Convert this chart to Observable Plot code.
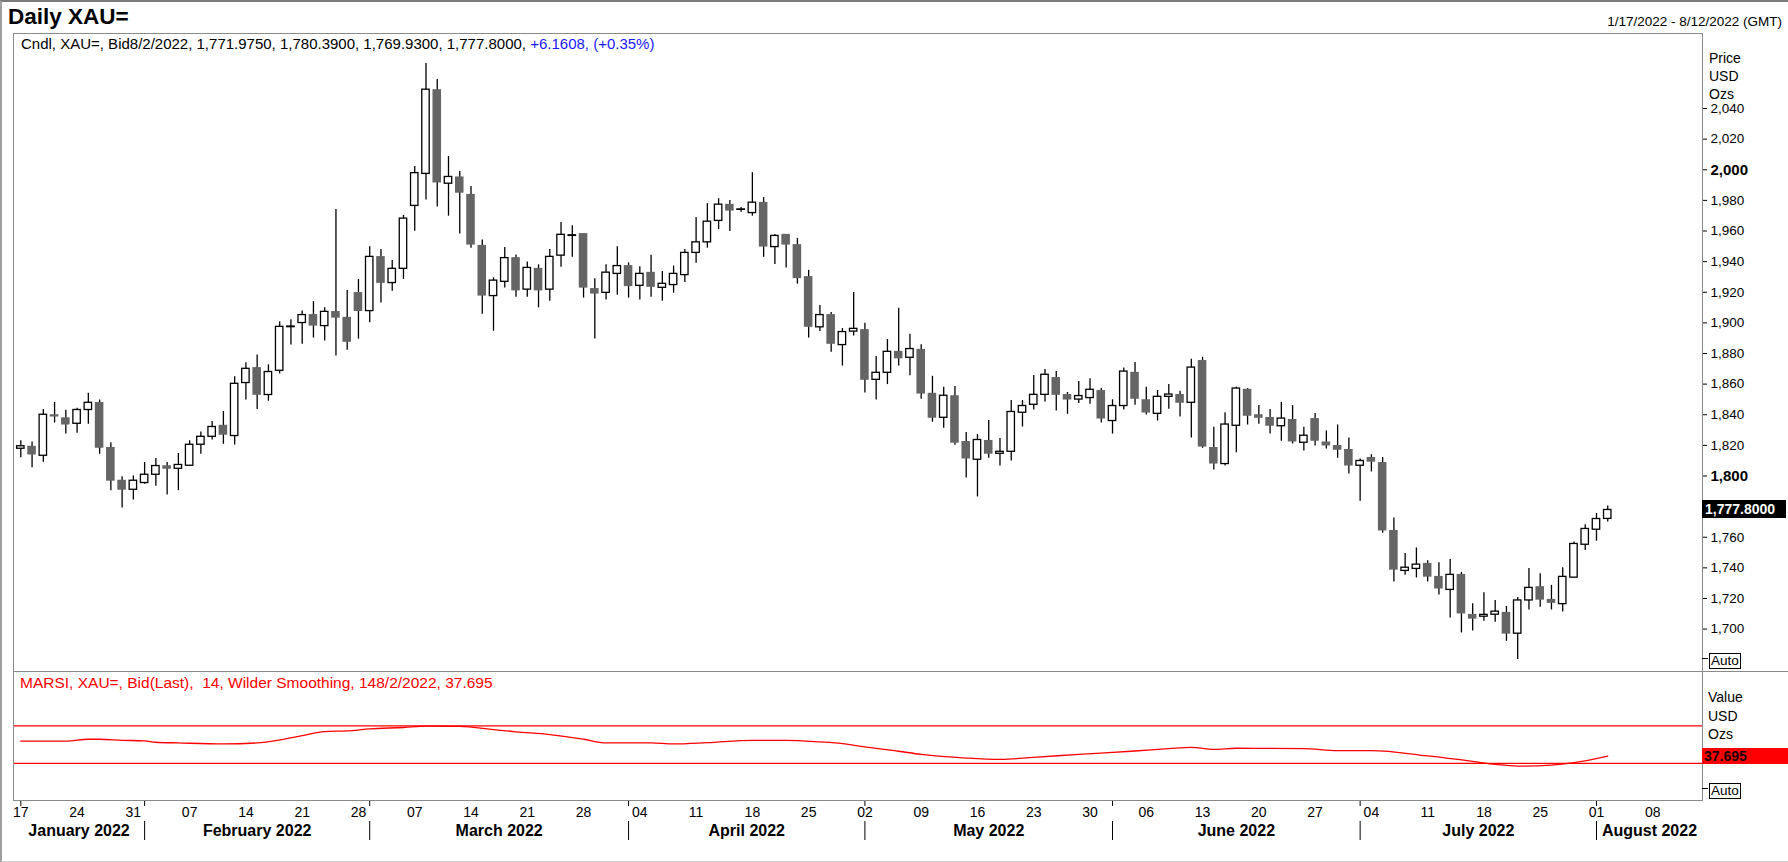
<!DOCTYPE html>
<html><head><meta charset="utf-8">
<script src="https://cdn.jsdelivr.net/npm/d3@7"></script>
<script src="https://cdn.jsdelivr.net/npm/@observablehq/plot@0.6"></script>
<style>
html,body{margin:0;padding:0;background:#fff;}
#root{position:relative;width:1788px;height:862px;overflow:hidden;font-family:"Liberation Sans",Arial,sans-serif;color:#000;background:#fff;}
.abs{position:absolute;white-space:nowrap;line-height:1;}
.panel{position:absolute;left:0;}
</style></head><body><div id="root"></div>
<script>
// ---------- DATA (daily XAU= candles, 1/17/2022 .. 8/2/2022, weekdays) ----------
const open = [1817.8,1819.4,1813.2,1840.0,1838.0,1834.1,1843.1,1848.0,1818.6,1797.2,
1791.0,1795.4,1800.8,1806.7,1804.7,1806.7,1820.4,1825.6,1833.1,1826.1,
1860.7,1870.8,1852.9,1868.7,1897.2,1899.9,1905.4,1897.9,1907.4,1903.6,
1919.8,1907.7,1943.3,1926.0,1935.3,1976.4,1997.3,2052.3,1990.9,1995.3,
1983.9,1950.6,1917.5,1926.8,1942.6,1921.7,1935.6,1921.7,1943.9,1956.8,
1958.3,1922.4,1919.6,1932.0,1937.4,1924.2,1933.0,1922.9,1924.7,1931.2,
1945.7,1952.6,1966.6,1977.4,1973.8,1971.7,1978.7,1949.5,1957.8,1951.1,
1930.2,1897.1,1905.4,1885.5,1894.3,1895.6,1862.8,1867.4,1881.4,1877.2,
1882.7,1854.0,1838.0,1852.4,1822.5,1810.6,1823.2,1814.5,1815.8,1841.3,
1846.5,1853.0,1864.3,1853.2,1849.9,1850.9,1855.8,1835.9,1845.7,1867.7,
1849.8,1840.6,1851.7,1853.2,1847.8,1875.4,1818.6,1807.8,1832.8,1856.6,
1840.0,1838.2,1832.5,1836.9,1821.7,1837.5,1822.2,1819.9,1817.3,1806.7,
1812.1,1808.8,1764.4,1738.0,1739.3,1742.9,1734.4,1725.6,1735.7,1709.6,
1708.1,1709.4,1710.9,1697.0,1718.7,1727.7,1719.4,1716.3,1733.6,1755.1,
1764.9,1771.975];
const high = [1823.0,1822.2,1843.4,1848.0,1842.9,1844.2,1854.0,1849.6,1821.7,1799.5,
1800.0,1808.8,1811.4,1808.8,1814.7,1823.0,1828.7,1835.6,1842.1,1864.8,
1873.9,1879.0,1872.6,1900.7,1902.0,1907.7,1913.9,1909.8,1974.1,1921.1,
1928.4,1949.8,1948.0,1940.8,1970.2,2002.2,2069.4,2059.0,2008.7,1998.9,
1989.1,1954.2,1929.4,1949.3,1944.4,1939.7,1937.9,1948.0,1965.6,1963.5,
1958.3,1928.9,1937.9,1949.8,1939.2,1936.6,1944.1,1933.5,1937.1,1948.0,
1968.9,1977.9,1981.1,1980.0,1975.4,1998.1,1981.8,1957.8,1957.8,1955.2,
1934.3,1911.3,1906.7,1896.3,1919.8,1899.7,1878.0,1889.1,1909.5,1892.5,
1885.7,1865.1,1857.9,1858.4,1828.4,1827.1,1836.2,1824.5,1849.3,1849.3,
1865.6,1869.5,1868.2,1854.5,1861.7,1863.5,1857.1,1849.8,1870.5,1874.1,
1857.9,1855.8,1859.7,1855.3,1876.2,1877.5,1831.8,1841.3,1857.9,1857.1,
1846.0,1843.4,1848.0,1846.0,1831.8,1840.8,1829.4,1833.3,1824.8,1811.1,
1813.9,1812.1,1772.6,1749.4,1753.0,1744.7,1743.4,1745.5,1737.0,1716.6,
1723.8,1718.7,1714.8,1720.7,1739.6,1736.2,1728.5,1740.1,1756.9,1768.2,
1775.5,1780.39];
const low = [1811.9,1805.4,1809.0,1834.6,1827.4,1827.9,1833.8,1814.2,1790.4,1779.1,
1784.3,1794.6,1793.3,1787.6,1790.4,1806.7,1814.2,1823.5,1820.7,1820.2,
1849.6,1843.4,1848.8,1866.6,1885.5,1886.0,1890.1,1888.1,1878.3,1882.1,
1889.4,1900.0,1912.9,1920.6,1928.4,1959.9,1980.3,1975.6,1969.7,1958.1,
1948.8,1905.6,1894.5,1922.7,1916.7,1916.7,1909.8,1914.2,1936.4,1942.8,
1916.2,1889.4,1914.9,1918.0,1916.2,1914.9,1916.7,1914.2,1919.3,1926.3,
1939.0,1948.8,1960.9,1959.6,1972.3,1969.7,1942.8,1938.2,1935.9,1925.3,
1890.1,1894.3,1880.8,1871.8,1891.4,1854.2,1849.6,1859.7,1871.8,1865.4,
1850.1,1835.1,1831.2,1820.1,1798.7,1786.3,1811.6,1806.5,1809.8,1832.0,
1843.1,1848.3,1842.4,1840.3,1847.3,1846.8,1834.6,1827.4,1843.1,1846.2,
1839.8,1835.9,1843.6,1838.5,1824.8,1818.1,1803.9,1806.5,1815.2,1833.3,
1833.8,1827.4,1822.7,1820.9,1816.3,1819.6,1817.6,1811.6,1801.3,1783.5,
1802.6,1762.6,1730.8,1735.2,1733.4,1730.8,1722.3,1707.3,1697.5,1698.8,
1705.2,1704.4,1692.0,1680.2,1712.5,1714.3,1712.5,1711.2,1733.6,1751.4,
1757.4,1769.93];
const close = [1819.4,1813.7,1840.0,1838.5,1833.3,1843.1,1847.8,1818.1,1796.6,1790.7,
1796.9,1800.8,1806.5,1804.4,1807.2,1820.4,1825.6,1832.0,1826.6,1860.2,
1870.0,1852.7,1867.9,1897.4,1897.6,1905.1,1897.9,1907.2,1903.1,1887.3,
1907.4,1943.1,1925.8,1935.3,1968.1,1997.8,2052.3,1991.4,1995.3,1984.7,
1950.8,1917.5,1927.6,1942.3,1920.9,1935.9,1920.9,1943.1,1957.5,1957.2,
1922.7,1918.8,1932.8,1937.1,1923.7,1932.0,1923.2,1925.5,1932.0,1945.7,
1952.6,1966.1,1977.2,1973.0,1974.1,1978.5,1949.5,1956.8,1950.8,1928.9,
1897.1,1905.1,1886.0,1894.0,1896.1,1862.5,1867.4,1881.1,1876.5,1882.9,
1853.5,1837.7,1852.4,1821.4,1811.1,1823.5,1814.2,1815.8,1841.8,1845.7,
1853.0,1866.1,1852.7,1849.6,1852.2,1856.3,1837.2,1845.7,1868.2,1850.1,
1841.1,1851.7,1853.2,1847.5,1870.8,1818.9,1807.8,1833.6,1857.1,1839.0,
1837.7,1832.5,1837.5,1822.2,1826.3,1822.7,1819.6,1816.8,1806.5,1809.8,
1809.0,1764.1,1738.5,1740.1,1742.1,1733.9,1726.2,1735.4,1709.9,1706.5,
1709.3,1711.4,1696.7,1718.7,1726.9,1718.9,1716.8,1734.1,1755.6,1765.4,
1771.9,1777.8];

// MARSI (14, Wilder smoothing) read at sparse trading-day positions
const rsiIdx = [0,4,6,7,9,11,12,14,18,21,23,25,27,29,31,34,36,39,42,44,47,50,52,56,58,61,65,68,71,73,75,78,80,84,87,90,94,99,102,104,106,108,114,117,120,125,129,131,133,136,138,141];
const rsiVal = [53.6,53.6,55.7,55.7,54.6,53.9,52.5,51.8,50.7,51.8,55.0,59.6,63.9,64.6,66.8,68.2,69.6,69.3,66.0,63.6,60.7,55.7,51.8,51.8,50.7,52.1,54.6,54.6,52.9,51.1,47.5,42.9,39.6,35.7,34.3,36.4,39.6,43.2,45.7,47.1,45.0,46.1,45.7,43.6,43.6,37.9,32.1,28.9,27.1,28.2,30.7,37.695];
const rsiLevels = [70, 30];

// axis labels
const dayLabels = ["17","24","31","07","14","21","28","07","14","21","28","04","11","18","25","02","09","16","23","30","06","13","20","27","04","11","18","25","01","08"];
const monthNames = ["January 2022","February 2022","March 2022","April 2022","May 2022","June 2022","July 2022","August 2022"];
const monthStartIdx = [11,31,54,75,97,119,140];
const priceTicks = [1700,1720,1740,1760,1820,1840,1860,1880,1900,1920,1940,1960,1980,2020,2040];
const priceBoldTicks = [1800,2000];

// ---------- LAYOUT ----------
const W = 1788, ML = 13, MR = 86;
const FONT = "Liberation Sans, Arial, sans-serif";
const xDomain = [-0.65, 149.42];
const root = document.getElementById("root");

const candles = open.map((o, i) => ({i, o, h: high[i], l: low[i], c: close[i], up: close[i] >= o}));
const rsi = rsiIdx.map((i, k) => ({i, v: rsiVal[k]}));
const weekIdx = dayLabels.map((_, k) => k * 5);
const bounds = [xDomain[0], ...monthStartIdx, xDomain[1]];
const months = monthNames.map((name, k) => ({name, center: (bounds[k] + bounds[k + 1]) / 2}));

function place(node, top) {
  const d = document.createElement("div");
  d.className = "panel"; d.style.top = top + "px";
  d.appendChild(node); root.appendChild(d); return d;
}
function label(text, x, yc, css = {}) {
  const d = document.createElement("div");
  d.className = "abs"; d.textContent = text;
  d.style.left = x + "px"; d.style.top = yc + "px"; d.style.transform = "translateY(-50%)";
  d.style.fontSize = "14px";
  Object.assign(d.style, css);
  root.appendChild(d); return d;
}

// price panel
const pricePlot = Plot.plot({
  width: W, height: 638, marginLeft: ML, marginRight: MR, marginTop: 0, marginBottom: 0,
  style: {fontFamily: FONT, fontSize: "14px", color: "#000", background: "transparent", overflow: "visible"},
  x: {domain: xDomain, axis: null},
  y: {domain: [1672.3, 2089.0], axis: null},
  marks: [
    Plot.ruleX(candles, {x: "i", y1: "l", y2: "h", stroke: "#000", strokeWidth: 1.3}),
    Plot.rect(candles.filter(d => !d.up), {x1: d => d.i - 0.38, x2: d => d.i + 0.38, y1: "o", y2: "c", fill: "#656565"}),
    Plot.rect(candles.filter(d => d.up), {x1: d => d.i - 0.33, x2: d => d.i + 0.33, y1: "o", y2: "c", fill: "#fff", stroke: "#000", strokeWidth: 1.3}),
    Plot.axisY(priceTicks, {anchor: "right", tickSize: 4, tickPadding: 4, tickFormat: d3.format(","), fontSize: 13.5, label: null, color: "#000"}),
    Plot.axisY(priceBoldTicks, {anchor: "right", tickSize: 4, tickPadding: 4, tickFormat: d3.format(","), fontSize: 15, fontWeight: "bold", label: null, color: "#000"}),
    Plot.frame({stroke: "#8a8a8a"})
  ]
});
place(pricePlot, 33);

// RSI panel (+ day labels)
const rsiPlot = Plot.plot({
  width: W, height: 129 + 24, marginLeft: ML, marginRight: MR, marginTop: 0, marginBottom: 24,
  style: {fontFamily: FONT, fontSize: "14px", color: "#000", background: "transparent", overflow: "visible"},
  x: {domain: xDomain, axis: null},
  y: {domain: [-9.5, 127.8], axis: null},
  marks: [
    Plot.ruleY(rsiLevels, {stroke: "#ff0000", strokeWidth: 1.2}),
    Plot.line(rsi, {x: "i", y: "v", stroke: "#ff0000", strokeWidth: 1.3, curve: "monotone-x"}),
    Plot.axisX(weekIdx, {anchor: "bottom", tickSize: 0, tickPadding: 7, tickFormat: d => dayLabels[d / 5], fontSize: 14, label: null, color: "#000"}),
    Plot.axisX([0, ...monthStartIdx], {anchor: "bottom", tickSize: 6, tickFormat: () => "", label: null, color: "#000"}),
    Plot.frame({stroke: "#8a8a8a"})
  ]
});
place(rsiPlot, 671);

// month strip
const monthPlot = Plot.plot({
  width: W, height: 35, marginLeft: ML, marginRight: MR, marginTop: 6, marginBottom: 10,
  style: {fontFamily: FONT, fontSize: "16px", color: "#000", background: "transparent", overflow: "visible"},
  x: {domain: xDomain, axis: null},
  y: {axis: null},
  marks: [
    Plot.ruleX(monthStartIdx, {stroke: "#000", strokeWidth: 1}),
    Plot.text(months, {x: "center", text: "name", frameAnchor: "middle", fontSize: 16, fontWeight: "bold", fill: "#000"})
  ]
});
place(monthPlot, 815);

// ---------- TEXT / DECORATIONS ----------
const border = document.createElement("div");
Object.assign(border.style, {position: "absolute", left: "0px", top: "0px", width: "1786px", height: "859px",
  borderLeft: "2px solid #a0a0a0", borderTop: "2px solid #7a7a7a", borderBottom: "1px solid #d0d0d0"});
root.appendChild(border);
const div2 = document.createElement("div");
Object.assign(div2.style, {position: "absolute", left: "1702px", top: "671px", width: "86px", height: "1px", background: "#8a8a8a"});
root.appendChild(div2);

label("Daily XAU=", 8, 17, {fontSize: "22.5px", fontWeight: "bold"});
label("1/17/2022 - 8/12/2022 (GMT)", 0, 22, {fontSize: "13.5px", left: "auto", right: "6px"});

const leg = label("", 21, 43, {fontSize: "15px"});
leg.innerHTML = 'Cndl, XAU=, Bid8/2/2022, 1,771.9750, 1,780.3900, 1,769.9300, 1,777.8000, <span style="color:#1a1aff">+6.1608, (+0.35%)</span>';

["Price", "USD", "Ozs"].forEach((t, k) => label(t, 1709, 58 + k * 18));

const yLast = 33 + pricePlot.scale("y").apply(close[close.length - 1]);
label(d3.format(",.4f")(close[close.length - 1]), 1702, yLast, {background: "#000", color: "#fff", fontWeight: "bold", padding: "2px 4px 2px 3px", width: "77px"});

function autoBox(yc) {
  label("Auto", 1709, yc, {border: "1px solid #000", padding: "0px 1px", fontSize: "13.5px", lineHeight: "14px"});
  const t = document.createElement("div");
  Object.assign(t.style, {position: "absolute", left: "1702px", top: (yc - 3) + "px", width: "6px", height: "1px", background: "#000"});
  root.appendChild(t);
}
autoBox(661);
autoBox(791);

label("MARSI, XAU=, Bid(Last),  14, Wilder Smoothing, 148/2/2022, 37.695".replace(/  /g, "\u00a0 "), 20, 683, {color: "#ff0000", fontSize: "15.5px"});
["Value", "USD", "Ozs"].forEach((t, k) => label(t, 1708, 697 + k * 18.5));
const yRsi = 671 + rsiPlot.scale("y").apply(rsiVal[rsiVal.length - 1]);
label(d3.format(".3f")(rsiVal[rsiVal.length - 1]), 1702, yRsi, {background: "#ff0000", color: "#1a0000", fontWeight: "bold", padding: "1px 2px", width: "82px"});
</script>
</body></html>
